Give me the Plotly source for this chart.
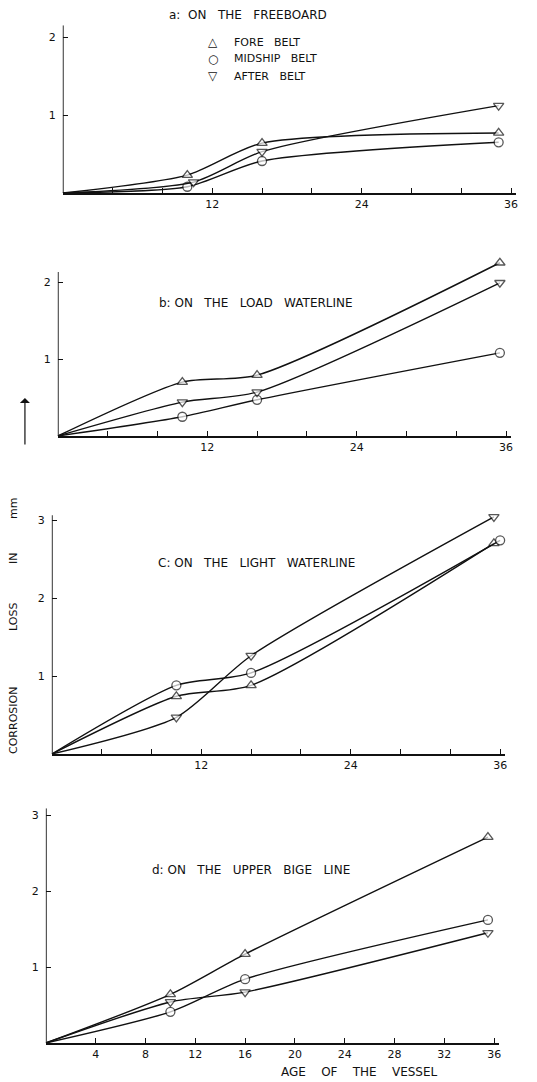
import plotly.graph_objects as go

# The page body has an 8px margin, so the figure is drawn 8px smaller
OFF = 8
W, H = 537 - OFF, 1082 - OFF

# ---------------- data ----------------
belts = ["FORE   BELT", "MIDSHIP   BELT", "AFTER   BELT"]
symbols = ["triangle-up", "circle", "triangle-down"]
legend_glyphs = ["\u25b3", "\u25cb", "\u25bd"]

panel_titles = [
    "a:  ON   THE   FREEBOARD",
    "b: ON   THE   LOAD   WATERLINE",
    "C: ON   THE   LIGHT   WATERLINE",
    "d: ON   THE   UPPER   BIGE   LINE",
]

# ages (years) of the survey points for each belt, per panel
a_age = [[0, 10, 16, 35], [0, 10, 16, 35], [0, 10.5, 16, 35]]
b_age = [[0, 10, 16, 35.5], [0, 10, 16, 35.5], [0, 10, 16, 35.5]]
c_age = [[0, 10, 16, 35.5], [0, 10, 16, 36], [0, 10, 16, 35.5]]
d_age = [[0, 10, 16, 35.5], [0, 10, 16, 35.5], [0, 10, 16, 35.5]]

# corrosion loss (mm): fore, midship, after
a_fore = [0, 0.23, 0.64, 0.77]
a_mid = [0, 0.08, 0.41, 0.65]
a_after = [0, 0.14, 0.53, 1.12]

b_fore = [0, 0.70, 0.79, 2.25]
b_mid = [0, 0.25, 0.47, 1.08]
b_after = [0, 0.44, 0.57, 1.99]

c_fore = [0, 0.74, 0.88, 2.70]
c_mid = [0, 0.88, 1.04, 2.74]
c_after = [0, 0.47, 1.26, 3.04]

d_fore = [0, 0.64, 1.17, 2.71]
d_mid = [0, 0.41, 0.84, 1.62]
d_after = [0, 0.54, 0.67, 1.45]

x_tickvals = [4, 8, 12, 16, 20, 24, 28, 32, 36]
x_ticktext_abc = ["", "", "12", "", "", "24", "", "", "36"]
x_ticktext_d = ["4", "8", "12", "16", "20", "24", "28", "32", "36"]

y_tickvals_ab = [1, 2]
y_tickvals_cd = [1, 2, 3]

panels = [
    (a_age, [a_fore, a_mid, a_after], x_ticktext_abc, y_tickvals_ab),
    (b_age, [b_fore, b_mid, b_after], x_ticktext_abc, y_tickvals_ab),
    (c_age, [c_fore, c_mid, c_after], x_ticktext_abc, y_tickvals_cd),
    (d_age, [d_fore, d_mid, d_after], x_ticktext_d, y_tickvals_cd),
]

# ---------------- layout geometry (page pixels) ----------------
# x pixel of age 0, y pixel of loss 0, px per mm, axis-line top value, range top
geom = [
    (63, 193, 78, 2.15, 2.15),
    (58, 436, 77, 2.13, 2.35),
    (52, 754, 78, 3.06, 3.12),
    (46, 1043, 76, 3.09, 3.09),
]
PX_PER_YEAR = 12.5
XMAX = 36.4


def fx(px):
    return (px - OFF) / W


def fy(py):
    return 1 - (py - OFF) / H


FONT = "DejaVu Sans"
INK = "#111111"

fig = go.Figure()
layout = dict(
    width=W, height=H,
    margin=dict(l=0, r=0, t=0, b=0),
    paper_bgcolor="white", plot_bgcolor="white",
    showlegend=False,
    font=dict(family=FONT, size=10, color=INK),
    annotations=[], shapes=[],
)

for i, (ages, series, xt, yt) in enumerate(panels):
    k = "" if i == 0 else str(i + 1)
    x0, ybot, ppu, axtop, rtop = geom[i]
    for j, vals in enumerate(series):
        fig.add_trace(go.Scatter(
            x=ages[j], y=vals,
            mode="lines+markers",
            name=belts[j],
            line=dict(color=INK, width=1.4, shape="spline", smoothing=0.7),
            marker=dict(symbol=symbols[j], size=[0, 9, 9, 9], color="white",
                        line=dict(color=INK, width=1.3)),
            xaxis="x" + k, yaxis="y" + k,
            cliponaxis=False,
        ))
    layout["xaxis" + k] = dict(
        domain=[fx(x0), fx(x0 + XMAX * PX_PER_YEAR)],
        range=[0, XMAX], anchor="y" + k,
        showline=True, linecolor=INK, linewidth=1.7,
        showgrid=False, zeroline=False,
        ticks="inside", ticklen=5, tickcolor=INK, tickwidth=1.2,
        tickvals=x_tickvals, ticktext=xt,
        tickfont=dict(family=FONT, size=11, color=INK),
    )
    layout["yaxis" + k] = dict(
        domain=[fy(ybot), fy(ybot - rtop * ppu)],
        range=[0, rtop], anchor="x" + k,
        showline=False,
        showgrid=False, zeroline=False,
        ticks="inside", ticklen=5, tickcolor=INK, tickwidth=1.2,
        tickvals=yt, ticktext=[str(v) for v in yt],
        ticklabelstandoff=6,
        tickfont=dict(family=FONT, size=11, color=INK),
    )
    # vertical axis line up to the drawn axis top
    layout["shapes"].append(dict(
        type="line", xref="x" + k, yref="y" + k,
        x0=0, x1=0, y0=0, y1=axtop,
        line=dict(color=INK, width=1.7),
    ))

# panel titles
title_pos = [(249, 15), (257, 303), (257, 563), (252, 870)]
for (px, py), t in zip(title_pos, panel_titles):
    layout["annotations"].append(dict(
        x=fx(px), y=fy(py), xref="paper", yref="paper",
        text=t, showarrow=False, xanchor="center", yanchor="middle",
        font=dict(family=FONT, size=12, color=INK),
    ))

# legend (panel a)
leg_rows = [42, 59, 76]
for g, b, py in zip(legend_glyphs, belts, leg_rows):
    layout["annotations"].append(dict(
        x=fx(207), y=fy(py), xref="paper", yref="paper",
        text=g, showarrow=False, xanchor="left", yanchor="middle",
        font=dict(family=FONT, size=12, color=INK),
    ))
    layout["annotations"].append(dict(
        x=fx(233), y=fy(py), xref="paper", yref="paper",
        text=b, showarrow=False, xanchor="left", yanchor="middle",
        font=dict(family=FONT, size=11, color=INK),
    ))

# y-axis title, word by word
ytitle_words = ["CORROSION", "LOSS", "IN", "mm"]
ytitle_pos = [720, 617, 558, 508]
for w_, py in zip(ytitle_words, ytitle_pos):
    layout["annotations"].append(dict(
        x=fx(13), y=fy(py), xref="paper", yref="paper",
        text=w_, textangle=-90,
        showarrow=False, xanchor="center", yanchor="middle",
        font=dict(family=FONT, size=11, color=INK),
    ))

# upward arrow
layout["annotations"].append(dict(
    x=fx(25), y=fy(398), xref="paper", yref="paper",
    text="", showarrow=True, ax=0, ay=48,
    arrowhead=1, arrowsize=1.4, arrowwidth=1.2, arrowcolor=INK,
))
# x-axis title
layout["annotations"].append(dict(
    x=fx(361), y=fy(1072), xref="paper", yref="paper",
    text="AGE    OF    THE    VESSEL", showarrow=False,
    xanchor="center", yanchor="middle",
    font=dict(family=FONT, size=12, color=INK),
))

fig.update_layout(**layout)
fig.write_html("out.html")
